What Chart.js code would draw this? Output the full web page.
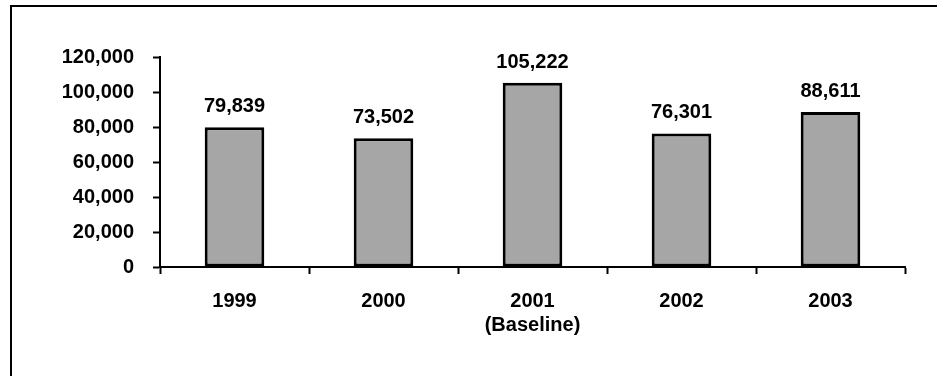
<!DOCTYPE html>
<html>
<head>
<meta charset="utf-8">
<style>
  html, body { margin: 0; padding: 0; background: #fff; }
  #wrap { position: relative; width: 937px; height: 376px; }
</style>
<script src="https://cdn.jsdelivr.net/npm/chart.js@4/dist/chart.umd.min.js"></script>
</head>
<body>
<div id="wrap"><canvas id="c" width="937" height="376"></canvas></div>
<script>
// Yearly totals, 2001 is the baseline year
const categories = [['1999'], ['2000'], ['2001', '(Baseline)'], ['2002'], ['2003']];
const values = [79839, 73502, 105222, 76301, 88611];
const yTicks = [0, 20000, 40000, 60000, 80000, 100000, 120000];

const FONT = "'Liberation Sans', Arial, sans-serif";
const fmt = v => v.toLocaleString('en-US');

// Frame lines along the top and left edges
const framePlugin = {
  id: 'frame',
  beforeDraw(chart) {
    const ctx = chart.ctx;
    ctx.save();
    ctx.fillStyle = '#000';
    ctx.fillRect(10, 5, chart.width - 10, 2);
    ctx.fillRect(10, 5, 2, chart.height - 5);
    ctx.restore();
  }
};

// Value printed above each bar
const valueLabels = {
  id: 'valueLabels',
  afterDatasetsDraw(chart) {
    const ctx = chart.ctx;
    const meta = chart.getDatasetMeta(0);
    ctx.save();
    ctx.font = 'bold 20px ' + FONT;
    ctx.fillStyle = '#000';
    ctx.textAlign = 'center';
    ctx.textBaseline = 'alphabetic';
    meta.data.forEach((bar, i) => {
      ctx.fillText(fmt(values[i]), bar.x, bar.y - 15);
    });
    ctx.restore();
  }
};

new Chart(document.getElementById('c'), {
  type: 'bar',
  data: {
    labels: categories,
    datasets: [{
      data: values,
      backgroundColor: '#A6A6A6',
      borderColor: '#000',
      borderWidth: 3,
      borderSkipped: false,
      categoryPercentage: 1.0,
      barPercentage: 0.4
    }]
  },
  options: {
    responsive: false,
    animation: false,
    devicePixelRatio: 1,
    layout: { padding: { left: 0, right: 32, top: 57, bottom: 0 } },
    plugins: {
      legend: { display: false },
      tooltip: { enabled: false }
    },
    scales: {
      x: {
        grid: {
          display: true,
          drawOnChartArea: false,
          drawTicks: true,
          tickLength: 7,
          tickWidth: 2,
          tickColor: '#000',
          offset: true
        },
        border: { display: true, color: '#000', width: 2 },
        ticks: {
          color: '#000',
          font: { family: FONT, size: 20, weight: 'bold', lineHeight: 1.2 },
          padding: 15,
          maxRotation: 0
        },
        afterFit(scale) { scale.height = 109; }
      },
      y: {
        min: 0,
        max: 120000,
        afterBuildTicks(scale) { scale.ticks = yTicks.map(v => ({ value: v })); },
        grid: {
          display: true,
          drawOnChartArea: false,
          drawTicks: true,
          tickLength: 7,
          tickWidth: 2,
          tickColor: '#000'
        },
        border: { display: true, color: '#000', width: 2 },
        ticks: {
          color: '#000',
          font: { family: FONT, size: 20, weight: 'bold' },
          padding: 19,
          callback: v => fmt(v)
        },
        afterFit(scale) { scale.width = 160; }
      }
    }
  },
  plugins: [framePlugin, valueLabels]
});
</script>
</body>
</html>
